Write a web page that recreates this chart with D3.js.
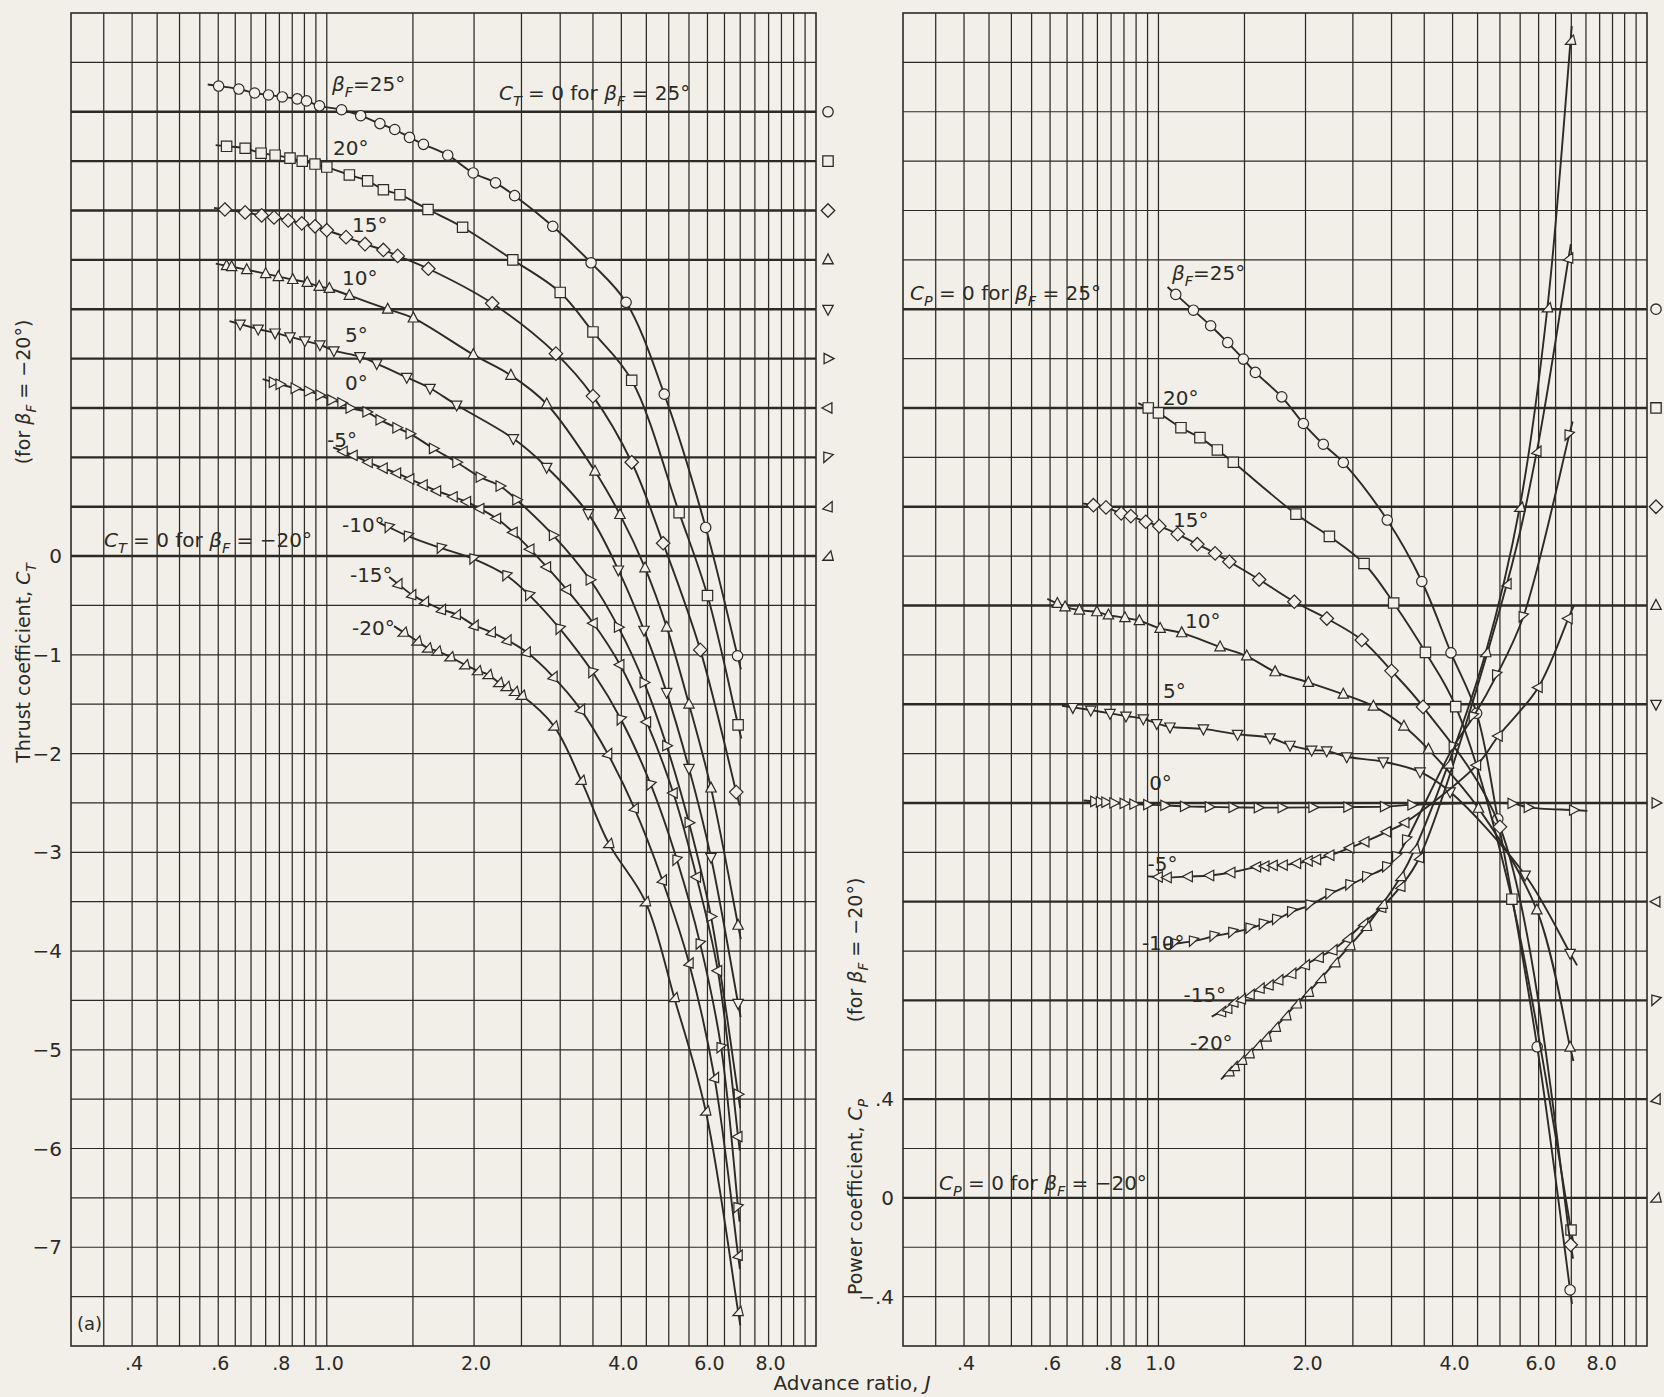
<!DOCTYPE html>
<html>
<head>
<meta charset="utf-8">
<script src="https://cdn.jsdelivr.net/npm/d3@7"></script>
<style>
  html, body { margin: 0; padding: 0; background: #f2efe9; }
  svg { display: block; }
  text { font-family: "DejaVu Sans", "Liberation Sans", sans-serif; fill: #2b2a25; }
</style>
</head>
<body>
<svg id="fig" width="1664" height="1397"></svg>
<script>
// ---- data -------------------------------------------------------------
const betaF = [25, 20, 15, 10, 5, 0, -5, -10, -15, -20];
const symbolKinds = ["circle", "square", "diamond", "triUp", "triDown", "triRight", "triLeft", "wedgeA", "wedgeB", "wedgeC"];

// each thrust curve is drawn shifted up by its offset (0 for beta_F = -20 deg)
const thrustOffset = [4.5, 4.0, 3.5, 3.0, 2.5, 2.0, 1.5, 1.0, 0.5, 0.0];
// each power curve is drawn shifted up by its offset
const powerOffset = [3.6, 3.2, 2.8, 2.4, 2.0, 1.6, 1.2, 0.8, 0.4, 0.0];

const xTickValues = [0.4, 0.6, 0.8, 1.0, 2.0, 4.0, 6.0, 8.0];
const xTickLabels = [".4", ".6", ".8", "1.0", "2.0", "4.0", "6.0", "8.0"];
const xGridValues = [0.35, 0.4, 0.45, 0.5, 0.55, 0.6, 0.65, 0.7, 0.75, 0.8, 0.85, 0.9, 0.95, 1.0,
                     1.5, 2.0, 2.5, 3.0, 3.5, 4.0, 4.5, 5.0, 5.5, 6.0, 6.5, 7.0, 7.5, 8.0, 8.5, 9.0, 9.5];
const ctTickValues = [0, -1, -2, -3, -4, -5, -6, -7];
const ctTickLabels = ["0", "\u22121", "\u22122", "\u22123", "\u22124", "\u22125", "\u22126", "\u22127"];
const cpTickValues = [0.4, 0, -0.4];
const cpTickLabels = [".4", "0", "\u2212.4"];

// Thrust coefficient C_T against advance ratio J (one list per beta_F)
const thrustJ = [
  [0.601,0.661,0.712,0.760,0.811,0.870,0.909,0.966,1.072,1.173,1.284,1.377,1.476,1.576,1.767,1.992,2.213,2.421,2.897,3.469,4.091,4.896,5.950,6.912],
  [0.624,0.681,0.734,0.784,0.841,0.891,0.946,1.000,1.112,1.212,1.305,1.411,1.610,1.895,2.4,3.00,3.5,4.2,5.25,6.0,6.93],
  [0.619,0.681,0.736,0.780,0.834,0.889,0.946,1.000,1.095,1.197,1.305,1.396,1.613,2.178,2.94,3.5,4.2,4.87,5.8,6.87],
  [0.624,0.639,0.686,0.750,0.796,0.852,0.912,0.965,1.012,1.112,1.332,1.503,1.993,2.379,2.815,3.533,3.975,4.472,4.953,5.5,6.1,6.93],
  [0.665,0.724,0.784,0.841,0.902,0.968,1.034,1.169,1.265,1.457,1.626,1.843,2.406,2.815,3.424,3.944,4.45,4.95,5.5,6.1,6.93],
  [0.777,0.802,0.861,0.917,0.968,1.023,1.073,1.115,1.207,1.284,1.390,1.479,1.651,1.843,2.057,2.259,2.444,2.904,3.452,3.944,4.45,4.95,5.5,6.1,6.93],
  [1.081,1.133,1.216,1.305,1.390,1.479,1.575,1.678,1.814,1.932,2.057,2.225,2.406,2.603,2.815,3.093,3.506,3.975,4.507,5.109,5.7,6.3,6.93],
  [1.342,1.469,1.715,2.0,2.335,2.6,3.0,3.5,4.0,4.6,5.2,5.8,6.4,6.93],
  [1.397,1.491,1.583,1.715,1.839,2.0,2.168,2.335,2.556,2.9,3.3,3.75,4.25,4.85,5.5,6.2,6.93],
  [1.433,1.529,1.607,1.681,1.785,1.914,2.032,2.136,2.246,2.325,2.419,2.50,2.91,3.31,3.77,4.48,5.13,5.95,6.93]
];
const thrustCT = [
  [0.26,0.23,0.19,0.17,0.15,0.13,0.11,0.06,0.02,-0.04,-0.12,-0.18,-0.26,-0.33,-0.44,-0.62,-0.72,-0.85,-1.16,-1.53,-1.93,-2.86,-4.21,-5.51],
  [0.15,0.13,0.08,0.06,0.03,0.00,-0.03,-0.06,-0.14,-0.20,-0.29,-0.34,-0.49,-0.67,-1.00,-1.33,-1.73,-2.22,-3.56,-4.40,-5.71],
  [0.01,-0.02,-0.05,-0.07,-0.10,-0.13,-0.16,-0.20,-0.27,-0.34,-0.40,-0.46,-0.59,-0.94,-1.45,-1.88,-2.55,-3.37,-4.45,-5.89],
  [-0.06,-0.07,-0.10,-0.14,-0.17,-0.20,-0.23,-0.27,-0.29,-0.36,-0.50,-0.59,-0.96,-1.17,-1.46,-2.14,-2.58,-3.12,-3.72,-4.50,-5.35,-6.74],
  [-0.15,-0.20,-0.24,-0.28,-0.32,-0.36,-0.42,-0.48,-0.55,-0.69,-0.80,-0.97,-1.31,-1.60,-2.07,-2.64,-3.25,-3.88,-4.65,-5.55,-7.03],
  [-0.24,-0.26,-0.30,-0.33,-0.37,-0.42,-0.45,-0.50,-0.54,-0.62,-0.70,-0.76,-0.91,-1.05,-1.20,-1.29,-1.43,-1.79,-2.24,-2.72,-3.28,-3.92,-4.70,-5.65,-7.45],
  [-0.44,-0.48,-0.55,-0.61,-0.66,-0.72,-0.78,-0.84,-0.90,-0.95,-1.02,-1.12,-1.26,-1.43,-1.61,-1.84,-2.18,-2.60,-3.18,-3.90,-4.75,-5.70,-7.38],
  [-0.71,-0.80,-0.92,-1.03,-1.20,-1.40,-1.74,-2.18,-2.66,-3.32,-4.08,-4.93,-5.98,-7.60],
  [-0.78,-0.89,-0.96,-1.04,-1.09,-1.20,-1.27,-1.35,-1.47,-1.72,-2.05,-2.50,-3.05,-3.78,-4.62,-5.78,-7.58],
  [-0.77,-0.86,-0.93,-0.96,-1.02,-1.10,-1.16,-1.20,-1.28,-1.32,-1.37,-1.41,-1.72,-2.27,-2.91,-3.50,-4.47,-5.62,-7.65]
];

// Power coefficient C_P against advance ratio J (one list per beta_F)
const powerJ = [
  [1.085,1.179,1.279,1.386,1.492,1.579,1.788,1.980,2.175,2.390,2.94,3.46,3.97,4.48,4.95,5.96,6.96],
  [0.953,1.000,1.112,1.216,1.320,1.423,1.912,2.238,2.635,3.03,3.52,4.06,5.29,6.99],
  [0.736,0.781,0.839,0.878,0.942,1.004,1.095,1.201,1.306,1.397,1.607,1.897,2.211,2.607,3.00,3.48,5.00,6.98],
  [0.621,0.644,0.689,0.748,0.790,0.854,0.914,1.008,1.116,1.337,1.516,1.733,2.027,2.390,2.754,3.18,3.57,4.52,5.95,6.96],
  [0.668,0.727,0.796,0.858,0.931,0.992,1.056,1.236,1.452,1.692,1.859,2.059,2.210,2.429,2.886,3.431,3.953,5.63,6.96],
  [0.74,0.76,0.78,0.81,0.85,0.89,0.95,1.03,1.13,1.27,1.42,1.60,1.79,2.07,2.44,2.90,3.3,5.29,5.71,7.07],
  [1.00,1.043,1.152,1.274,1.408,1.589,1.653,1.719,1.802,1.919,2.027,2.109,2.245,2.466,2.648,2.933,3.197,4.482,4.963,5.990,6.90],
  [1.08,1.18,1.30,1.42,1.540,1.640,1.746,1.874,2.043,2.245,2.466,2.669,2.933,3.074,3.222,4.015,4.412,4.925,5.582,6.93],
  [1.346,1.386,1.427,1.478,1.540,1.614,1.684,1.763,1.874,1.998,2.133,2.275,2.441,2.630,2.864,3.134,3.422,5.168,5.95,6.91],
  [1.394,1.430,1.480,1.533,1.596,1.661,1.735,1.823,1.916,2.027,2.151,2.297,2.465,2.666,2.874,3.134,3.349,3.922,4.676,5.489,6.254,6.976]
];
const powerCP = [
  [0.060,-0.004,-0.067,-0.135,-0.202,-0.256,-0.355,-0.463,-0.547,-0.621,-0.854,-1.103,-1.392,-1.637,-2.065,-2.988,-3.973],
  [0.00,-0.02,-0.08,-0.12,-0.17,-0.22,-0.43,-0.52,-0.63,-0.79,-0.99,-1.21,-1.99,-3.33],
  [0.006,-0.003,-0.027,-0.038,-0.061,-0.079,-0.111,-0.152,-0.189,-0.223,-0.295,-0.385,-0.453,-0.540,-0.665,-0.811,-1.297,-2.99],
  [0.008,-0.006,-0.019,-0.026,-0.039,-0.050,-0.062,-0.093,-0.111,-0.168,-0.205,-0.269,-0.312,-0.360,-0.408,-0.489,-0.583,-0.822,-1.234,-1.79],
  [-0.013,-0.024,-0.037,-0.048,-0.059,-0.078,-0.092,-0.100,-0.122,-0.136,-0.166,-0.186,-0.189,-0.213,-0.233,-0.274,-0.355,-0.692,-1.009],
  [0.006,0.004,0.003,0.000,-0.002,-0.005,-0.007,-0.010,-0.014,-0.016,-0.018,-0.019,-0.019,-0.018,-0.017,-0.015,-0.008,-0.002,-0.018,-0.029],
  [0.100,0.098,0.102,0.106,0.118,0.141,0.144,0.147,0.148,0.155,0.165,0.171,0.188,0.218,0.243,0.283,0.320,0.553,0.671,0.868,1.147],
  [0.23,0.24,0.26,0.275,0.292,0.309,0.328,0.359,0.386,0.431,0.468,0.501,0.541,0.582,0.650,1.027,1.149,1.318,1.554,2.29],
  [0.355,0.368,0.394,0.407,0.424,0.450,0.463,0.484,0.510,0.545,0.575,0.605,0.653,0.713,0.777,0.863,0.979,2.088,2.625,3.408],
  [0.511,0.532,0.558,0.584,0.618,0.652,0.691,0.738,0.786,0.833,0.889,0.953,1.022,1.100,1.190,1.302,1.414,1.758,2.209,2.798,3.606,4.690]
];

// ---- layout -----------------------------------------------------------
const ink = "#2b2a25";
const paper = "#f2efe9";
const svg = d3.select("#fig");
svg.append("rect").attr("width", 1664).attr("height", 1397).attr("fill", paper);

// anchors of the curve labels, in [J, shifted coefficient]
const thrustLabelAt = [[1.025,4.706],[1.030,4.059],[1.126,3.279],[1.074,2.743],[1.089,2.166],
                       [1.089,1.680],[1.001,1.103],[1.074,0.243],[1.115,-0.263],[1.126,-0.800]];
const powerLabelAt = [[1.066,3.718],[1.022,3.214],[1.071,2.717],[1.133,2.308],[1.022,2.025],
                      [0.957,1.651],[0.950,1.325],[0.925,1.004],[1.125,0.793],[1.160,0.599]];

const panels = [
  { x0: 71, x1: 816, y0: 13, y1: 1346, domain: [-8, 5.5],
    gridLevels: d3.range(-15, 11).map(k => k / 2),
    heavy: v => v >= 0 && v <= 4.5,
    offsets: thrustOffset, J: thrustJ, C: thrustCT, labelAt: thrustLabelAt,
    yTicks: ctTickValues, yLabels: ctTickLabels, legendX: 828 },
  { x0: 903, x1: 1647, y0: 13, y1: 1346, domain: [-0.6, 4.8],
    gridLevels: d3.range(-2, 24).map(k => k / 5),
    heavy: v => v >= -0.01 && v <= 3.61 && Math.abs(Math.round(v * 5) % 2) === 0,
    offsets: powerOffset, J: powerJ, C: powerCP, labelAt: powerLabelAt,
    yTicks: cpTickValues, yLabels: cpTickLabels, legendX: 1656 }
];

// open plotting symbols
function symbolPath(kind) {
  const s = 5.2;
  switch (kind) {
    case "circle": return `M${-s},0a${s},${s} 0 1,0 ${2*s},0a${s},${s} 0 1,0 ${-2*s},0Z`;
    case "square": return `M${-s},${-s}H${s}V${s}H${-s}Z`;
    case "diamond": { const d = s * 1.3; return `M0,${-d}L${d},0L0,${d}L${-d},0Z`; }
    case "triUp": return `M0,${-s*1.15}L${s},${s*0.75}L${-s},${s*0.75}Z`;
    case "triDown": return `M0,${s*1.15}L${s},${-s*0.75}L${-s},${-s*0.75}Z`;
    case "triRight": return `M${s*1.15},0L${-s*0.75},${s}L${-s*0.75},${-s}Z`;
    case "triLeft": return `M${-s*1.15},0L${s*0.75},${s}L${s*0.75},${-s}Z`;
    case "wedgeA": return `M${-s*0.8},${-s}L${s},${-s*0.55}L${-s*0.8},${s}Z`;
    case "wedgeB": return `M${s*0.8},${-s}L${s*0.8},${s}L${-s},${s*0.45}Z`;
    case "wedgeC": return `M${-s},${s*0.8}L${s},${s*0.8}L${s*0.55},${-s}Z`;
  }
}

// rich text helper: segments of {t, it, sub}; the baseline returns after a subscript
function richText(g, x, y, segs, size, opts = {}) {
  const t = g.append("text").attr("x", x).attr("y", y)
    .attr("font-size", size)
    .attr("text-anchor", opts.anchor || "start");
  if (opts.rotate) t.attr("transform", `rotate(${opts.rotate},${x},${y})`);
  let cur = 0;
  segs.forEach(sg => {
    const target = sg.sub ? size * 0.3 : 0;
    const sp = t.append("tspan").text(sg.t);
    if (target !== cur) sp.attr("dy", target - cur);
    cur = target;
    if (sg.it) sp.attr("font-style", "italic");
    if (sg.sub) sp.attr("font-size", size * 0.72);
  });
  return t;
}

panels.forEach((p, pi) => {
  const x = d3.scaleLog().domain([0.3, 10]).range([p.x0, p.x1]);
  const y = d3.scaleLinear().domain(p.domain).range([p.y1, p.y0]);
  const g = svg.append("g");

  // vertical grid
  g.selectAll("line.vg").data(xGridValues).join("line")
    .attr("x1", d => x(d)).attr("x2", d => x(d))
    .attr("y1", p.y0).attr("y2", p.y1)
    .attr("stroke", ink).attr("stroke-width", 1.25);

  // horizontal grid, heavier at each curve's zero
  g.selectAll("line.hg").data(p.gridLevels).join("line")
    .attr("x1", p.x0).attr("x2", p.x1)
    .attr("y1", d => y(d)).attr("y2", d => y(d))
    .attr("stroke", ink).attr("stroke-width", d => p.heavy(d) ? 2.4 : 1.2);

  // frame
  g.append("rect").attr("x", p.x0).attr("y", p.y0)
    .attr("width", p.x1 - p.x0).attr("height", p.y1 - p.y0)
    .attr("fill", "none").attr("stroke", ink).attr("stroke-width", 1.6);

  // x tick labels
  g.selectAll("text.xt").data(xTickValues).join("text")
    .attr("x", d => x(d) + 2).attr("y", 1370)
    .attr("text-anchor", "middle").attr("font-size", 19)
    .text((d, i) => xTickLabels[i]);

  // y tick labels
  g.selectAll("text.yt").data(p.yTicks).join("text")
    .attr("x", p.x0 - 9).attr("y", d => y(d) + 7)
    .attr("text-anchor", "end").attr("font-size", 20)
    .text((d, i) => p.yLabels[i]);

  // legend of symbols at each zero line
  g.selectAll("path.leg").data(p.offsets).join("path")
    .attr("transform", d => `translate(${p.legendX},${y(d)})`)
    .attr("d", (d, i) => symbolPath(symbolKinds[i]))
    .attr("fill", "none").attr("stroke", ink).attr("stroke-width", 1.3);

  // curves
  const line = d3.line().curve(d3.curveCatmullRom.alpha(0.5));
  betaF.forEach((b, i) => {
    const pts = p.J[i].map((j, k) => [x(j), y(p.C[i][k] + p.offsets[i])]);
    // faired line runs a little past the first and last test points
    const ext = (a, bpt, len) => {
      const dx = a[0] - bpt[0], dy = a[1] - bpt[1], L = Math.hypot(dx, dy) || 1;
      return [a[0] + dx / L * len, a[1] + dy / L * len];
    };
    const n = pts.length;
    const full = [ext(pts[0], pts[1], 11), ...pts, ext(pts[n - 1], pts[n - 2], 14)];
    g.append("path").attr("d", line(full))
      .attr("fill", "none").attr("stroke", ink).attr("stroke-width", 1.9);
    g.selectAll(null).data(pts).join("path")
      .attr("transform", d => `translate(${d[0]},${d[1]})`)
      .attr("d", symbolPath(symbolKinds[i]))
      .attr("fill", paper).attr("stroke", ink).attr("stroke-width", 1.2);

    // curve label
    const la = p.labelAt[i];
    const lx = x(la[0]), ly = y(la[1]);
    if (i === 0) richText(g, lx, ly, [{t: "\u03b2", it: true}, {t: "F", it: true, sub: true}, {t: "=" + b + "\u00b0"}], 20);
    else richText(g, lx, ly, [{t: (b < 0 ? "-" : "") + Math.abs(b) + "\u00b0"}], 20);
  });
});

// annotations
const xl = d3.scaleLog().domain([0.3, 10]).range([71, 816]);
const yl = d3.scaleLinear().domain([-8, 5.5]).range([1346, 13]);
const xr = d3.scaleLog().domain([0.3, 10]).range([903, 1647]);
const yr = d3.scaleLinear().domain([-0.6, 4.8]).range([1346, 13]);

richText(svg, xl(2.249), yl(4.615), [{t: "C", it: true}, {t: "T", it: true, sub: true}, {t: " = 0 for "},
  {t: "\u03b2", it: true}, {t: "F", it: true, sub: true}, {t: " = 25\u00b0"}], 20);
richText(svg, xl(0.3504), yl(0.091), [{t: "C", it: true}, {t: "T", it: true, sub: true}, {t: " = 0 for "},
  {t: "\u03b2", it: true}, {t: "F", it: true, sub: true}, {t: " = \u221220\u00b0"}], 20);
richText(svg, xr(0.310), yr(3.636), [{t: "C", it: true}, {t: "P", it: true, sub: true}, {t: " = 0 for "},
  {t: "\u03b2", it: true}, {t: "F", it: true, sub: true}, {t: " = 25\u00b0"}], 20);
richText(svg, xr(0.3556), yr(0.032), [{t: "C", it: true}, {t: "P", it: true, sub: true}, {t: " = 0 for "},
  {t: "\u03b2", it: true}, {t: "F", it: true, sub: true}, {t: " = \u221220\u00b0"}], 20);

// axis titles
richText(svg, 30, 663, [{t: "Thrust coefficient, "}, {t: "C", it: true}, {t: "T", it: true, sub: true}], 19,
  {anchor: "middle", rotate: -90});
richText(svg, 30, 392, [{t: "(for "}, {t: "\u03b2", it: true}, {t: "F", it: true, sub: true}, {t: " = \u221220\u00b0)"}], 19,
  {anchor: "middle", rotate: -90});
richText(svg, 862, 1197, [{t: "Power coefficient, "}, {t: "C", it: true}, {t: "P", it: true, sub: true}], 19,
  {anchor: "middle", rotate: -90});
richText(svg, 862, 950, [{t: "(for "}, {t: "\u03b2", it: true}, {t: "F", it: true, sub: true}, {t: " = \u221220\u00b0)"}], 19,
  {anchor: "middle", rotate: -90});
richText(svg, 852, 1390, [{t: "Advance ratio, "}, {t: "J", it: true}], 20, {anchor: "middle"});
svg.append("text").attr("x", 77).attr("y", 1330).attr("font-size", 18).text("(a)");
</script>
</body>
</html>
